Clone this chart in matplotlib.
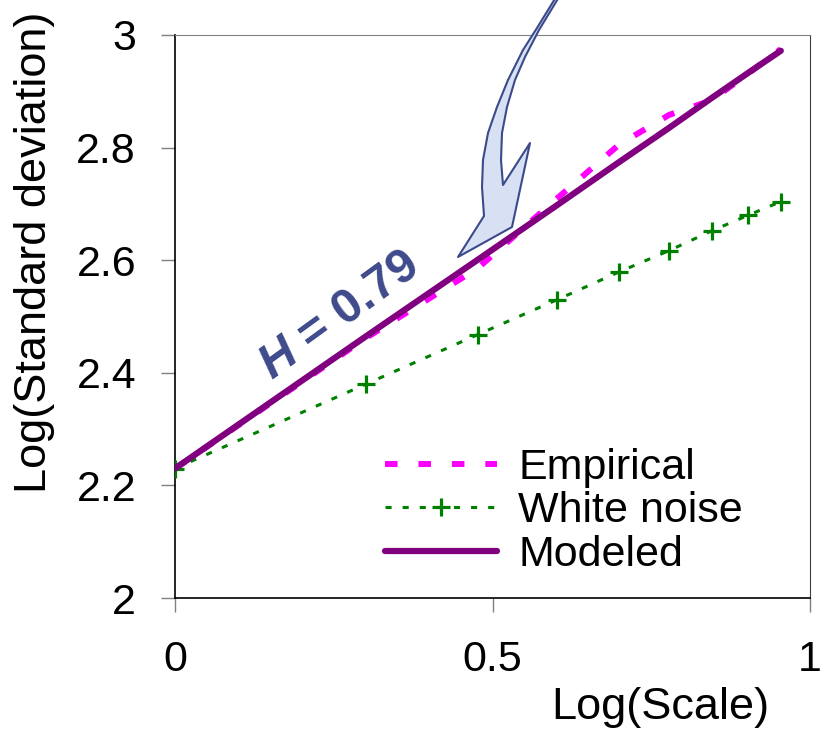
import matplotlib
matplotlib.use("Agg")
import matplotlib.pyplot as plt
from matplotlib.path import Path
from matplotlib.patches import PathPatch

plt.rcParams['font.family'] = ['Liberation Sans', 'DejaVu Sans']
plt.rcParams['mathtext.fontset'] = 'custom'
plt.rcParams['mathtext.it'] = 'Liberation Sans:italic:bold'

# log10 of scales 1..9
log_scale = [0, 0.301, 0.477, 0.602, 0.699, 0.778, 0.845, 0.903, 0.954]
empirical = [2.23, 2.462, 2.586, 2.71, 2.805, 2.858, 2.884, 2.932, 2.975]
white_noise = [2.23, 2.38, 2.468, 2.53, 2.579, 2.617, 2.652, 2.68, 2.704]
modeled = [2.23, 2.465, 2.601, 2.698, 2.774, 2.835, 2.888, 2.933, 2.972]

x_ticks = [0, 0.5, 1]
x_ticklabels = ['0', '0.5', '1']
y_ticks = [2, 2.2, 2.4, 2.6, 2.8, 3]
y_ticklabels = ['2', '2.2', '2.4', '2.6', '2.8', '3']

W, H = 825, 732
fig = plt.figure(figsize=(W / 100, H / 100), dpi=100)
ax = fig.add_axes([175 / W, 1 - 598 / H, 635 / W, 563 / H])

fs = 31

ax.plot(log_scale, empirical, color='#ff00ff', lw=4.3, linestyle=(0, (2.1, 3.5)),
        label='Empirical', zorder=3)
ax.plot(log_scale, white_noise, color='#008000', lw=2.2, linestyle=(0, (2.0, 3.6)),
        marker='+', markersize=13, markeredgewidth=2.3, label='White noise', zorder=3)
ax.plot(log_scale, modeled, color='#800080', lw=4.5, solid_capstyle='round',
        label='Modeled', zorder=4)

ax.set_xlim(0, 1)
ax.set_ylim(2, 3)
ax.set_xticks(x_ticks)
ax.set_xticklabels(x_ticklabels)
ax.set_yticks(y_ticks)
ax.set_yticklabels(y_ticklabels)
ax.tick_params(direction='out', length=10, width=1, color='#808080', labelsize=fs)
ax.tick_params(axis='y', pad=18)
ax.tick_params(axis='x', pad=20)

for side in ['left', 'bottom']:
    ax.spines[side].set_color('black')
    ax.spines[side].set_linewidth(1.2)
ax.spines['top'].set_color('#808080')
ax.spines['right'].set_color('#404040')

ax.set_xlabel('Log(Scale)', fontsize=32.5)
ax.xaxis.set_label_coords(0.764, -0.158)
ax.set_ylabel('Log(Standard deviation)', fontsize=32.5)
ax.yaxis.label.set_va('center')
ax.yaxis.set_label_coords(-0.222, 0.6146)

leg = ax.legend(loc='upper left', bbox_to_anchor=(385 / W, 1 - 448 / H),
                bbox_transform=fig.transFigure, frameon=False, fontsize=fs,
                handlelength=2.6, handletextpad=0.5, labelspacing=0.08,
                borderpad=0, borderaxespad=0)

# H label along the modeled line
fig.text(272 / W, 1 - 380 / H, r'$\mathit{H}$ = 0.79', fontsize=35, fontweight='bold',
         color='#3f4a8c', rotation=36, rotation_mode='anchor', ha='left', va='baseline')

# curved block arrow pointing at the fitted line (reference pixel coords)
def fp(x, y):
    return (x / W, 1 - y / H)

outline = [(556, -3), (537, 28), (523, 50), (508, 80), (497, 107), (488, 133),
           (483, 160), (482, 187), (484, 216),      # outer edge down
           (458, 257),                               # tip
           (512, 227), (530, 143), (503, 185),       # head
           (501, 160), (502, 133), (507, 107), (515, 80), (525, 57),
           (539, 30), (559, -3)]                     # inner edge up
verts = [fp(x, y) for x, y in outline] + [fp(*outline[0])]
codes = [Path.MOVETO] + [Path.LINETO] * (len(outline) - 1) + [Path.CLOSEPOLY]
arrow = PathPatch(Path(verts, codes), transform=fig.transFigure, facecolor='#d8e1f4',
                  edgecolor='#3b4a8a', lw=1.5, joinstyle='round', zorder=5)
fig.patches.append(arrow)

fig.savefig('out.png', dpi=100)
